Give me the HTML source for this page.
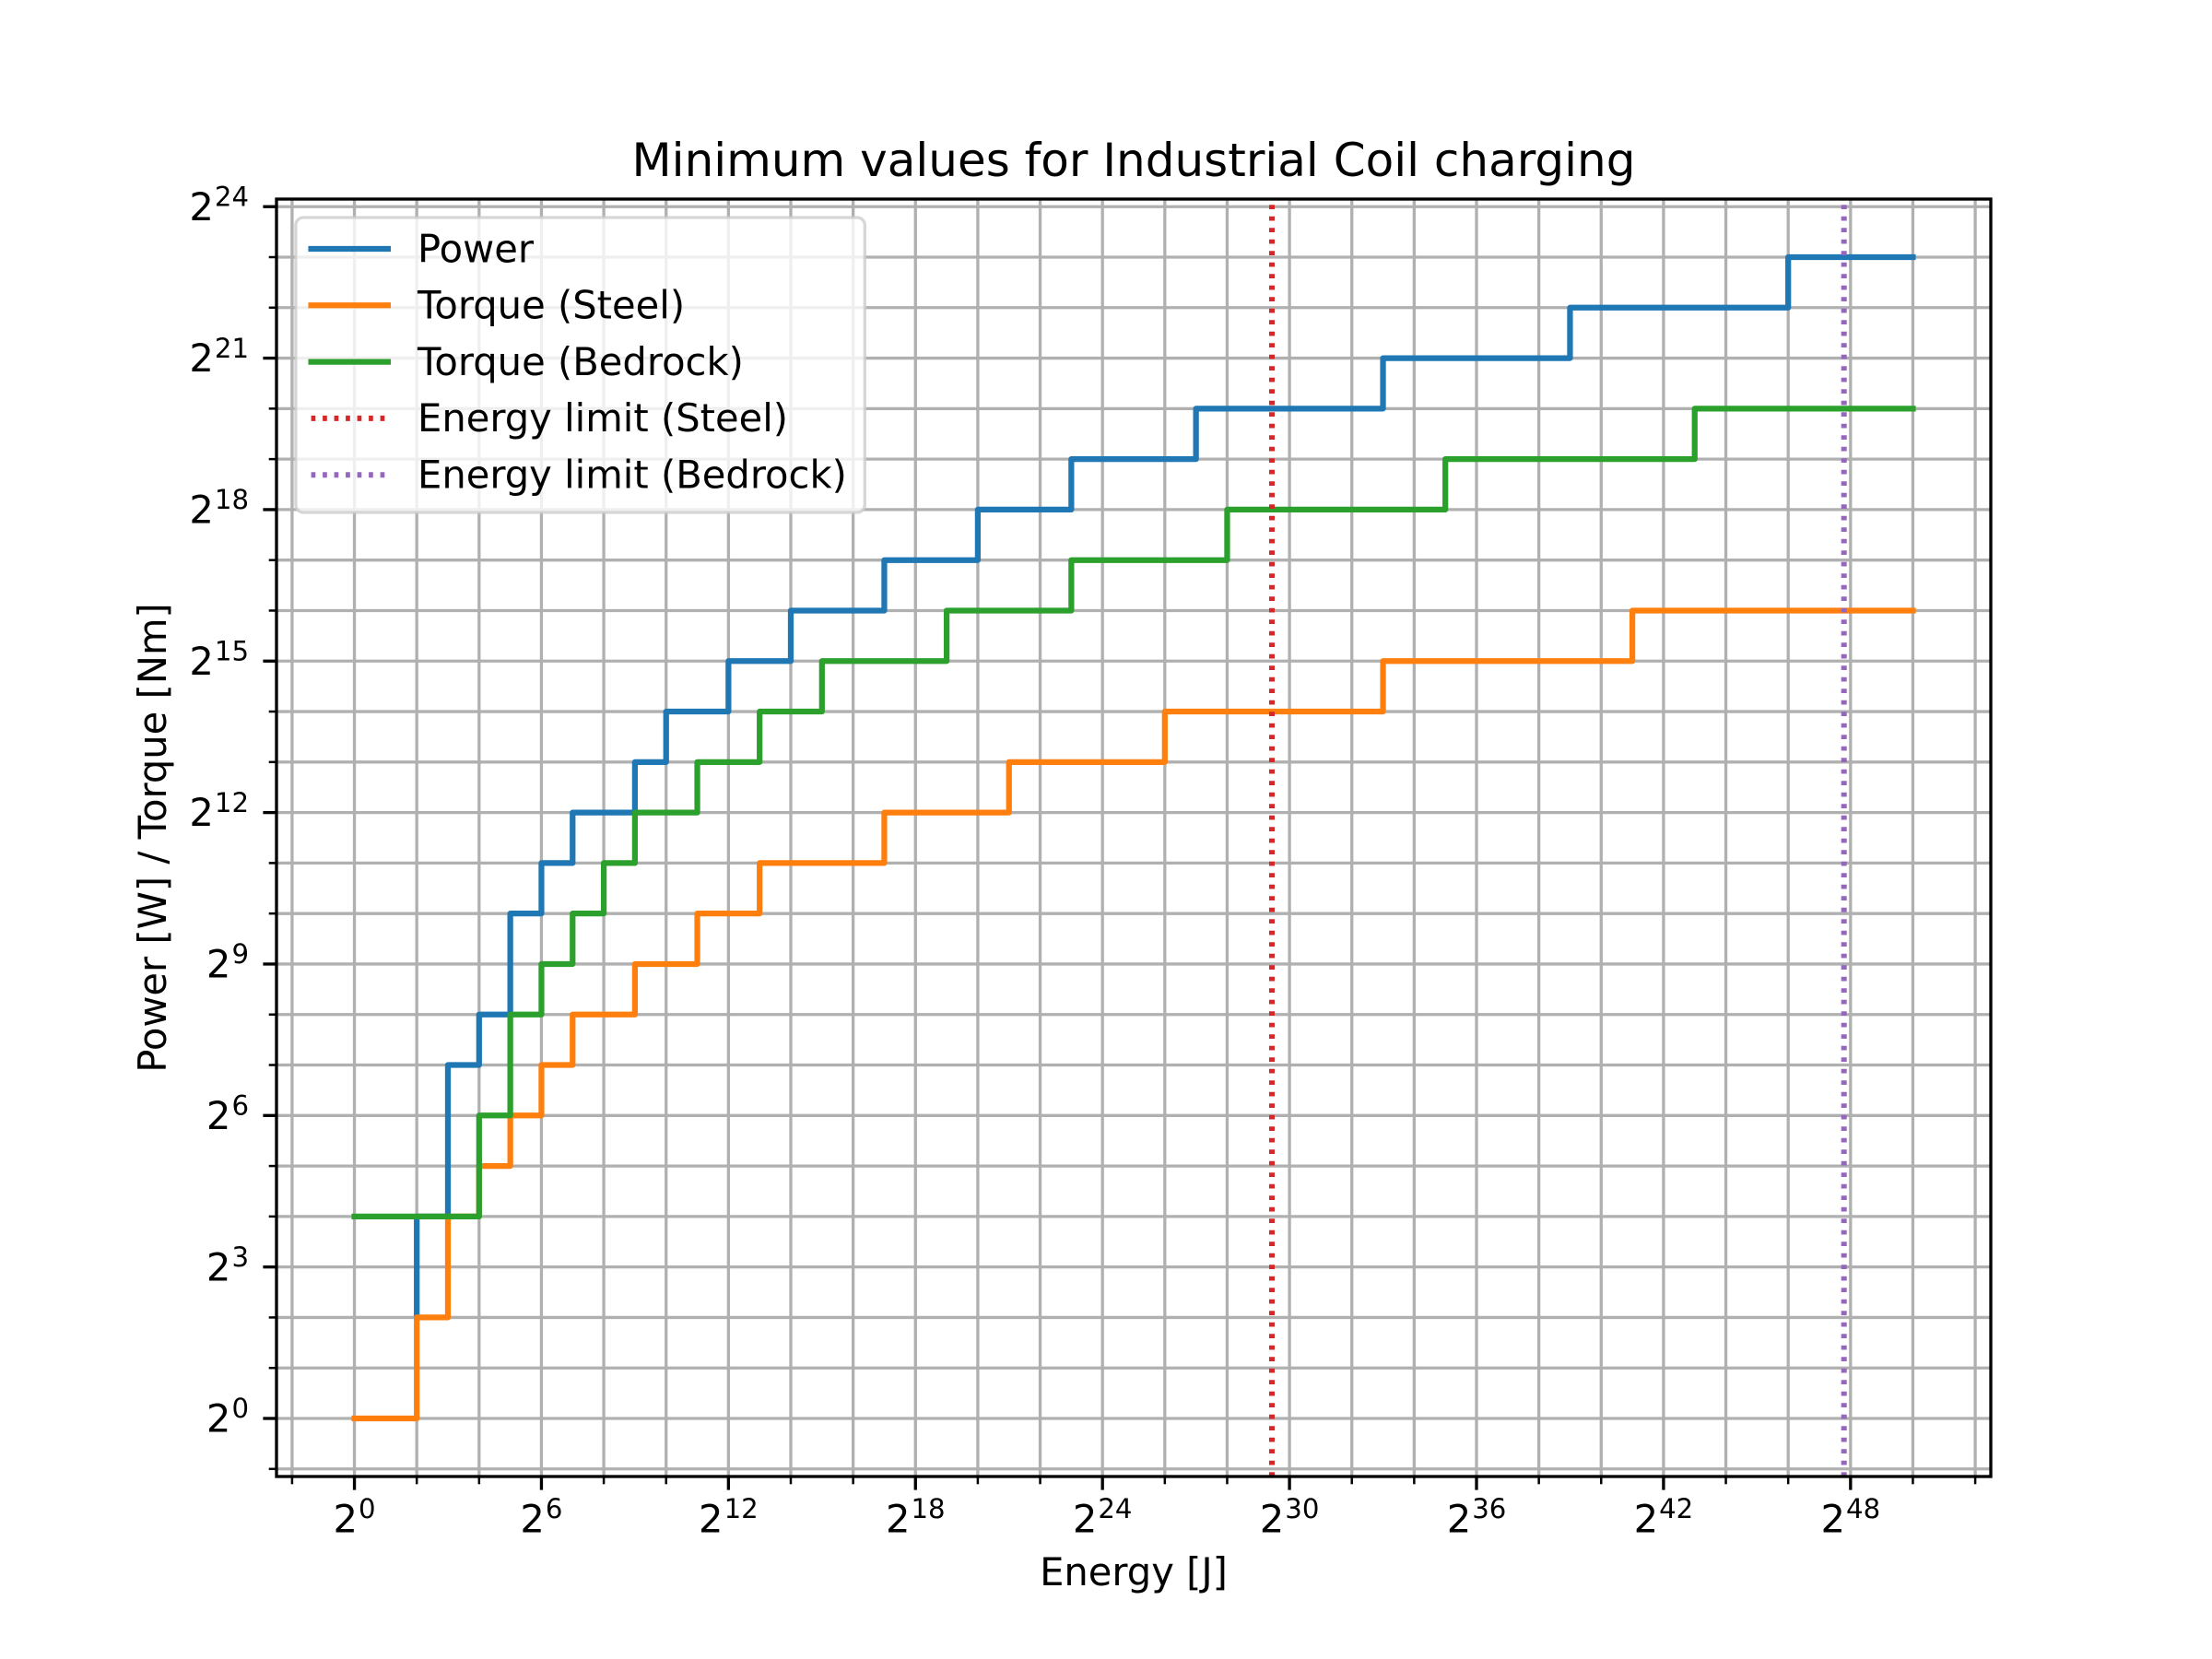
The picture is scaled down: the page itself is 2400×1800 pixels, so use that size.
<!DOCTYPE html>
<html>
<head>
<meta charset="utf-8">
<style>
html,body{margin:0;padding:0;background:#fff;}
svg{display:block;}
text{font-family:"DejaVu Sans","Liberation Sans",sans-serif;fill:#000;}
</style>
</head>
<body>
<svg width="2400" height="1800" viewBox="0 0 2400 1800" xmlns="http://www.w3.org/2000/svg">
<rect x="0" y="0" width="2400" height="1800" fill="#fff"/>
<g stroke="#b0b0b0" stroke-width="3.3" fill="none">
<line x1="316.91" y1="216" x2="316.91" y2="1602"/>
<line x1="384.55" y1="216" x2="384.55" y2="1602"/>
<line x1="452.18" y1="216" x2="452.18" y2="1602"/>
<line x1="519.82" y1="216" x2="519.82" y2="1602"/>
<line x1="587.45" y1="216" x2="587.45" y2="1602"/>
<line x1="655.09" y1="216" x2="655.09" y2="1602"/>
<line x1="722.73" y1="216" x2="722.73" y2="1602"/>
<line x1="790.36" y1="216" x2="790.36" y2="1602"/>
<line x1="858.00" y1="216" x2="858.00" y2="1602"/>
<line x1="925.64" y1="216" x2="925.64" y2="1602"/>
<line x1="993.27" y1="216" x2="993.27" y2="1602"/>
<line x1="1060.91" y1="216" x2="1060.91" y2="1602"/>
<line x1="1128.55" y1="216" x2="1128.55" y2="1602"/>
<line x1="1196.18" y1="216" x2="1196.18" y2="1602"/>
<line x1="1263.82" y1="216" x2="1263.82" y2="1602"/>
<line x1="1331.45" y1="216" x2="1331.45" y2="1602"/>
<line x1="1399.09" y1="216" x2="1399.09" y2="1602"/>
<line x1="1466.73" y1="216" x2="1466.73" y2="1602"/>
<line x1="1534.36" y1="216" x2="1534.36" y2="1602"/>
<line x1="1602.00" y1="216" x2="1602.00" y2="1602"/>
<line x1="1669.64" y1="216" x2="1669.64" y2="1602"/>
<line x1="1737.27" y1="216" x2="1737.27" y2="1602"/>
<line x1="1804.91" y1="216" x2="1804.91" y2="1602"/>
<line x1="1872.55" y1="216" x2="1872.55" y2="1602"/>
<line x1="1940.18" y1="216" x2="1940.18" y2="1602"/>
<line x1="2007.82" y1="216" x2="2007.82" y2="1602"/>
<line x1="2075.45" y1="216" x2="2075.45" y2="1602"/>
<line x1="2143.09" y1="216" x2="2143.09" y2="1602"/>
<line x1="300" y1="1593.78" x2="2160" y2="1593.78"/>
<line x1="300" y1="1539.00" x2="2160" y2="1539.00"/>
<line x1="300" y1="1484.22" x2="2160" y2="1484.22"/>
<line x1="300" y1="1429.43" x2="2160" y2="1429.43"/>
<line x1="300" y1="1374.65" x2="2160" y2="1374.65"/>
<line x1="300" y1="1319.87" x2="2160" y2="1319.87"/>
<line x1="300" y1="1265.09" x2="2160" y2="1265.09"/>
<line x1="300" y1="1210.30" x2="2160" y2="1210.30"/>
<line x1="300" y1="1155.52" x2="2160" y2="1155.52"/>
<line x1="300" y1="1100.74" x2="2160" y2="1100.74"/>
<line x1="300" y1="1045.96" x2="2160" y2="1045.96"/>
<line x1="300" y1="991.17" x2="2160" y2="991.17"/>
<line x1="300" y1="936.39" x2="2160" y2="936.39"/>
<line x1="300" y1="881.61" x2="2160" y2="881.61"/>
<line x1="300" y1="826.83" x2="2160" y2="826.83"/>
<line x1="300" y1="772.04" x2="2160" y2="772.04"/>
<line x1="300" y1="717.26" x2="2160" y2="717.26"/>
<line x1="300" y1="662.48" x2="2160" y2="662.48"/>
<line x1="300" y1="607.70" x2="2160" y2="607.70"/>
<line x1="300" y1="552.91" x2="2160" y2="552.91"/>
<line x1="300" y1="498.13" x2="2160" y2="498.13"/>
<line x1="300" y1="443.35" x2="2160" y2="443.35"/>
<line x1="300" y1="388.57" x2="2160" y2="388.57"/>
<line x1="300" y1="333.78" x2="2160" y2="333.78"/>
<line x1="300" y1="279.00" x2="2160" y2="279.00"/>
<line x1="300" y1="224.22" x2="2160" y2="224.22"/>
</g>
<g fill="none" stroke-width="6.25" stroke-linecap="square" stroke-linejoin="round">
<polyline stroke="#1f77b4" points="452.18,1429.43 452.18,1319.87 485.99,1319.87 485.99,1155.52 519.82,1155.52 519.82,1100.74 553.64,1100.74 553.64,991.17 587.45,991.17 587.45,936.39 621.27,936.39 621.27,881.61 688.91,881.61 688.91,826.83 722.73,826.83 722.73,772.04 790.36,772.04 790.36,717.26 858.00,717.26 858.00,662.48 959.45,662.48 959.45,607.70 1060.91,607.70 1060.91,552.91 1162.36,552.91 1162.36,498.13 1297.64,498.13 1297.64,443.35 1500.55,443.35 1500.55,388.57 1703.45,388.57 1703.45,333.78 1940.18,333.78 1940.18,279.00 2075.45,279.00"/>
<polyline stroke="#ff7f0e" points="384.55,1539.00 452.18,1539.00 452.18,1429.43 485.99,1429.43 485.99,1319.87 519.82,1319.87 519.82,1265.09 553.64,1265.09 553.64,1210.30 587.45,1210.30 587.45,1155.52 621.27,1155.52 621.27,1100.74 688.91,1100.74 688.91,1045.96 756.55,1045.96 756.55,991.17 824.18,991.17 824.18,936.39 959.45,936.39 959.45,881.61 1094.73,881.61 1094.73,826.83 1263.82,826.83 1263.82,772.04 1500.55,772.04 1500.55,717.26 1771.09,717.26 1771.09,662.48 2075.45,662.48"/>
<polyline stroke="#2ca02c" points="384.55,1319.87 519.82,1319.87 519.82,1210.30 553.64,1210.30 553.64,1100.74 587.45,1100.74 587.45,1045.96 621.27,1045.96 621.27,991.17 655.09,991.17 655.09,936.39 688.91,936.39 688.91,881.61 756.55,881.61 756.55,826.83 824.18,826.83 824.18,772.04 891.82,772.04 891.82,717.26 1027.09,717.26 1027.09,662.48 1162.36,662.48 1162.36,607.70 1331.45,607.70 1331.45,552.91 1568.18,552.91 1568.18,498.13 1838.73,498.13 1838.73,443.35 2075.45,443.35"/>
</g>
<g fill="none" stroke-width="6" stroke-dasharray="4.7 7.8" stroke-linecap="butt">
<line x1="1380" y1="1602" x2="1380" y2="216" stroke="#d62728"/>
<line x1="2000.7" y1="1602" x2="2000.7" y2="216" stroke="#9467bd"/>
</g>
<rect x="300" y="216" width="1860" height="1386" fill="none" stroke="#000" stroke-width="3.33" stroke-linejoin="miter"/>
<g stroke="#000" stroke-width="3.33">
<line x1="285.4" y1="1539.00" x2="300" y2="1539.00"/>
<line x1="285.4" y1="1374.65" x2="300" y2="1374.65"/>
<line x1="285.4" y1="1210.30" x2="300" y2="1210.30"/>
<line x1="285.4" y1="1045.96" x2="300" y2="1045.96"/>
<line x1="285.4" y1="881.61" x2="300" y2="881.61"/>
<line x1="285.4" y1="717.26" x2="300" y2="717.26"/>
<line x1="285.4" y1="552.91" x2="300" y2="552.91"/>
<line x1="285.4" y1="388.57" x2="300" y2="388.57"/>
<line x1="285.4" y1="224.22" x2="300" y2="224.22"/>
<line x1="384.55" y1="1602" x2="384.55" y2="1616.6"/>
<line x1="587.45" y1="1602" x2="587.45" y2="1616.6"/>
<line x1="790.36" y1="1602" x2="790.36" y2="1616.6"/>
<line x1="993.27" y1="1602" x2="993.27" y2="1616.6"/>
<line x1="1196.18" y1="1602" x2="1196.18" y2="1616.6"/>
<line x1="1399.09" y1="1602" x2="1399.09" y2="1616.6"/>
<line x1="1602.00" y1="1602" x2="1602.00" y2="1616.6"/>
<line x1="1804.91" y1="1602" x2="1804.91" y2="1616.6"/>
<line x1="2007.82" y1="1602" x2="2007.82" y2="1616.6"/>
</g>
<g stroke="#000" stroke-width="2.5">
<line x1="291.7" y1="1593.78" x2="300" y2="1593.78"/>
<line x1="291.7" y1="1484.22" x2="300" y2="1484.22"/>
<line x1="291.7" y1="1429.43" x2="300" y2="1429.43"/>
<line x1="291.7" y1="1319.87" x2="300" y2="1319.87"/>
<line x1="291.7" y1="1265.09" x2="300" y2="1265.09"/>
<line x1="291.7" y1="1155.52" x2="300" y2="1155.52"/>
<line x1="291.7" y1="1100.74" x2="300" y2="1100.74"/>
<line x1="291.7" y1="991.17" x2="300" y2="991.17"/>
<line x1="291.7" y1="936.39" x2="300" y2="936.39"/>
<line x1="291.7" y1="826.83" x2="300" y2="826.83"/>
<line x1="291.7" y1="772.04" x2="300" y2="772.04"/>
<line x1="291.7" y1="662.48" x2="300" y2="662.48"/>
<line x1="291.7" y1="607.70" x2="300" y2="607.70"/>
<line x1="291.7" y1="498.13" x2="300" y2="498.13"/>
<line x1="291.7" y1="443.35" x2="300" y2="443.35"/>
<line x1="291.7" y1="333.78" x2="300" y2="333.78"/>
<line x1="291.7" y1="279.00" x2="300" y2="279.00"/>
<line x1="316.91" y1="1602" x2="316.91" y2="1610.3"/>
<line x1="452.18" y1="1602" x2="452.18" y2="1610.3"/>
<line x1="519.82" y1="1602" x2="519.82" y2="1610.3"/>
<line x1="655.09" y1="1602" x2="655.09" y2="1610.3"/>
<line x1="722.73" y1="1602" x2="722.73" y2="1610.3"/>
<line x1="858.00" y1="1602" x2="858.00" y2="1610.3"/>
<line x1="925.64" y1="1602" x2="925.64" y2="1610.3"/>
<line x1="1060.91" y1="1602" x2="1060.91" y2="1610.3"/>
<line x1="1128.55" y1="1602" x2="1128.55" y2="1610.3"/>
<line x1="1263.82" y1="1602" x2="1263.82" y2="1610.3"/>
<line x1="1331.45" y1="1602" x2="1331.45" y2="1610.3"/>
<line x1="1466.73" y1="1602" x2="1466.73" y2="1610.3"/>
<line x1="1534.36" y1="1602" x2="1534.36" y2="1610.3"/>
<line x1="1669.64" y1="1602" x2="1669.64" y2="1610.3"/>
<line x1="1737.27" y1="1602" x2="1737.27" y2="1610.3"/>
<line x1="1872.55" y1="1602" x2="1872.55" y2="1610.3"/>
<line x1="1940.18" y1="1602" x2="1940.18" y2="1610.3"/>
<line x1="2075.45" y1="1602" x2="2075.45" y2="1610.3"/>
<line x1="2143.09" y1="1602" x2="2143.09" y2="1610.3"/>
</g>
<g font-size="41.67" text-anchor="end">
<text x="270" y="1553.6">2<tspan font-size="29.17" dy="-15.4" dx="1">0</tspan></text>
<text x="270" y="1389.3">2<tspan font-size="29.17" dy="-15.4" dx="1">3</tspan></text>
<text x="270" y="1224.9">2<tspan font-size="29.17" dy="-15.4" dx="1">6</tspan></text>
<text x="270" y="1060.6">2<tspan font-size="29.17" dy="-15.4" dx="1">9</tspan></text>
<text x="270" y="896.2">2<tspan font-size="29.17" dy="-15.4" dx="1">12</tspan></text>
<text x="270" y="731.9">2<tspan font-size="29.17" dy="-15.4" dx="1">15</tspan></text>
<text x="270" y="567.5">2<tspan font-size="29.17" dy="-15.4" dx="1">18</tspan></text>
<text x="270" y="403.2">2<tspan font-size="29.17" dy="-15.4" dx="1">21</tspan></text>
<text x="270" y="238.8">2<tspan font-size="29.17" dy="-15.4" dx="1">24</tspan></text>
</g>
<g font-size="41.67" text-anchor="middle">
<text x="384.55" y="1662.5">2<tspan font-size="29.17" dy="-15.4" dx="1">0</tspan></text>
<text x="587.45" y="1662.5">2<tspan font-size="29.17" dy="-15.4" dx="1">6</tspan></text>
<text x="790.36" y="1662.5">2<tspan font-size="29.17" dy="-15.4" dx="1">12</tspan></text>
<text x="993.27" y="1662.5">2<tspan font-size="29.17" dy="-15.4" dx="1">18</tspan></text>
<text x="1196.18" y="1662.5">2<tspan font-size="29.17" dy="-15.4" dx="1">24</tspan></text>
<text x="1399.09" y="1662.5">2<tspan font-size="29.17" dy="-15.4" dx="1">30</tspan></text>
<text x="1602.00" y="1662.5">2<tspan font-size="29.17" dy="-15.4" dx="1">36</tspan></text>
<text x="1804.91" y="1662.5">2<tspan font-size="29.17" dy="-15.4" dx="1">42</tspan></text>
<text x="2007.82" y="1662.5">2<tspan font-size="29.17" dy="-15.4" dx="1">48</tspan></text>
</g>
<text x="1230" y="1720" font-size="41.67" text-anchor="middle">Energy [J]</text>
<text transform="translate(180,909) rotate(-90)" font-size="41.67" text-anchor="middle">Power [W] / Torque [Nm]</text>
<text x="1230" y="191" font-size="50" text-anchor="middle">Minimum values for Industrial Coil charging</text>
<rect x="320.9" y="236" width="617.4" height="320" rx="8.3" ry="8.3" fill="#fff" fill-opacity="0.8" stroke="#cccccc" stroke-opacity="0.8" stroke-width="3.3"/>
<g fill="none">
<line x1="337.6" y1="270" x2="420.9" y2="270" stroke="#1f77b4" stroke-width="6.25" stroke-linecap="square"/>
<line x1="337.6" y1="331.3" x2="420.9" y2="331.3" stroke="#ff7f0e" stroke-width="6.25" stroke-linecap="square"/>
<line x1="337.6" y1="392.6" x2="420.9" y2="392.6" stroke="#2ca02c" stroke-width="6.25" stroke-linecap="square"/>
<line x1="337.6" y1="453.9" x2="420.9" y2="453.9" stroke="#d62728" stroke-width="6" stroke-dasharray="4.7 7.8"/>
<line x1="337.6" y1="515.2" x2="420.9" y2="515.2" stroke="#9467bd" stroke-width="6" stroke-dasharray="4.7 7.8"/>
</g>
<g font-size="41.67">
<text x="453" y="284.3">Power</text>
<text x="453" y="345.6">Torque (Steel)</text>
<text x="453" y="406.9">Torque (Bedrock)</text>
<text x="453" y="468.2">Energy limit (Steel)</text>
<text x="453" y="529.5">Energy limit (Bedrock)</text>
</g>
</svg>
</body>
</html>
